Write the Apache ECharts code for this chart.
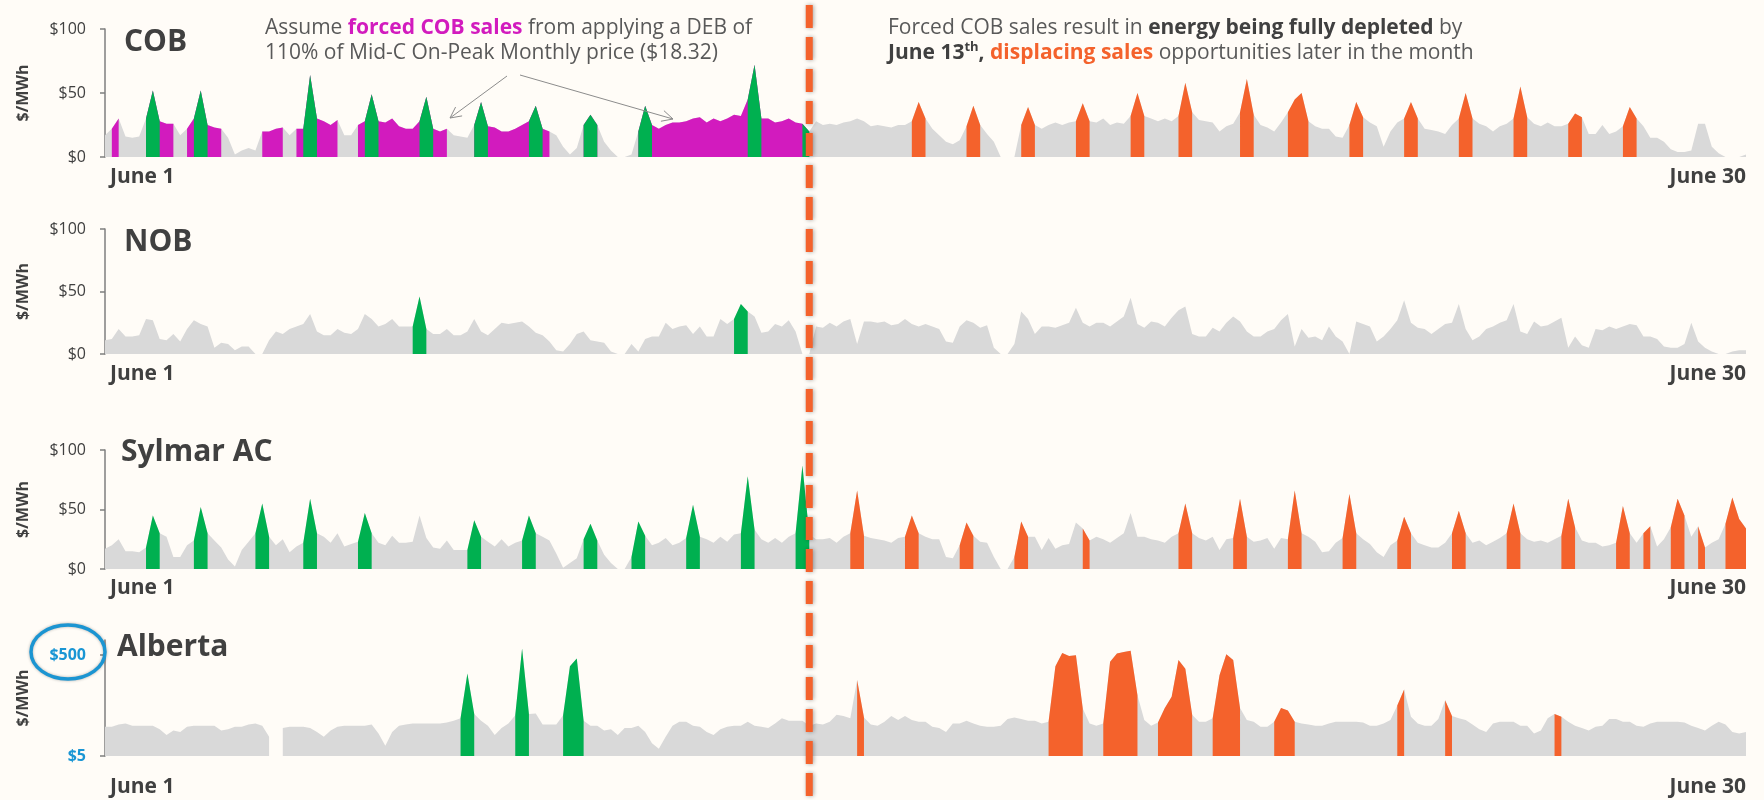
<!DOCTYPE html>
<html><head><meta charset="utf-8">
<script src="https://cdn.jsdelivr.net/npm/echarts@6/dist/echarts.min.js"></script>
<style>html,body{margin:0;padding:0;background:#FFFCF7;}#c{width:1764px;height:800px;}</style>
</head><body><div id="c"></div>
<script>
// ---------- DATA (3-hour steps, June 1 00:00 .. June 30 24:00, 241 points) ----------
// category positions: hour of month
const hourLabels = [];
for (let h = 0; h <= 720; h += 3) hourLabels.push(h);
const xLabelFirst = 'June 1';
const xLabelLast = 'June 30';

// flags: g = price only, m = forced COB sale, G = green sale, o = displaced (orange) sale
const cobPrices = [
  17,22,30,16,15,16,30,52,  28,26,26,17,22,30,52,25,  23,22,15,2,5,7,5,20,
  20,22,23,17,22,22,64,30,  28,25,29,17,17,25,28,49,  28,27,30,24,22,22,28,47,
  22,20,22,17,16,15,25,43,  24,23,20,20,22,25,28,40,  22,20,17,8,2,7,25,33,
  25,12,5,0,0,2,20,40,      25,22,25,27,27,28,30,31,  27,30,28,30,33,32,45,72,
  30,30,27,28,30,27,26,20,  28,25,26,25,27,28,30,28,  24,25,24,23,25,25,28,43,
  30,22,17,12,10,13,24,40,  25,18,12,0,0,0,25,39,     25,22,25,27,25,27,28,42,
  28,27,30,25,27,26,32,50,  32,30,28,30,28,32,58,35,  29,28,27,20,24,26,35,61,
  33,25,23,20,27,35,45,50,  28,24,22,22,16,15,25,43,  31,27,24,8,20,27,30,43,
  30,22,21,20,18,25,30,50,  30,26,24,20,24,26,30,55,  31,26,24,27,24,24,26,34,
  31,18,18,25,18,20,24,39,  30,24,15,15,12,6,4,4,     5,26,26,8,3,0,0,0,
  2];
const cobFlags = [
  'gmmgggGG','GmmgmGGG','mmgggggm','mmmgmGGG','mmmggmGG','GmmmmmGG',
  'GmmgggGG','GmmmmmGG','GmggggGG','GgggggGG','Gmmmmmmm','mmmmmmGG',
  'GmmmmmGG','gggggggg','ggggggoo','ogggggoo','ogggggoo','ogggggoo',
  'ogggggoo','oggggooo','ggggggoo','oggggooo','ogggggoo','ogggggoo',
  'ogggggoo','ogggggoo','ogggggoo','ogggggoo','oggggggg','gggggggg','g'].join('');

const nobPrices = [
  11,12,20,14,14,15,28,27,  12,11,16,10,20,27,24,22,  5,9,8,3,6,6,0,0,
  11,18,16,20,22,24,32,18,  15,15,20,17,16,20,32,28,  22,24,28,22,22,22,46,20,
  16,16,20,15,15,18,28,18,  15,20,25,24,25,26,22,17,  15,10,3,2,8,16,18,11,
  10,9,2,0,0,8,2,12,        14,14,25,20,22,23,16,22,  14,14,28,24,28,40,34,30,
  17,18,24,22,27,18,0,0,    22,21,25,22,26,28,8,26,   26,25,26,23,24,28,24,22,
  24,22,20,10,9,22,27,25,   21,23,5,0,0,8,34,28,      16,22,22,21,23,25,37,25,
  22,25,25,22,26,30,45,24,  21,26,25,22,29,35,38,16,  14,14,21,18,25,30,26,18,
  14,14,18,20,27,32,6,20,   13,14,11,22,14,10,0,26,   24,22,10,14,20,27,43,25,
  21,20,16,20,24,25,40,20,  11,14,20,22,25,27,40,18,  16,26,22,23,26,29,5,14,
  7,5,20,19,22,20,22,24,    23,14,14,12,6,5,5,8,      25,10,5,2,0,0,2,3,
  3];
const nobFlags = [
  'gggggggg','gggggggg','gggggggg','gggggggg','gggggggg','gggggGGG',
  'gggggggg','gggggggg','gggggggg','gggggggg','gggggggg','ggggGGGg',
  'gggggggg','gggggggg','gggggggg','gggggggg','gggggggg','gggggggg',
  'gggggggg','gggggggg','gggggggg','gggggggg','gggggggg','gggggggg',
  'gggggggg','gggggggg','gggggggg','gggggggg','gggggggg','gggggggg','g'].join('');

const sylmarPrices = [
  17,20,25,15,15,14,18,45,  30,27,10,10,20,24,52,30,  24,18,8,2,16,23,30,55,
  27,20,25,14,19,22,59,30,  27,22,30,19,21,23,47,30,  22,20,28,22,22,23,45,26,
  18,17,24,16,16,16,41,27,  23,19,25,19,22,24,45,30,  27,24,13,1,5,9,25,38,
  24,12,5,0,0,10,40,28,     20,22,26,20,22,26,54,27,  25,22,27,23,29,30,78,33,
  25,22,26,22,27,30,87,29,  25,25,26,22,27,30,66,28,  26,25,24,22,26,27,45,30,
  27,25,25,10,9,20,39,28,   23,22,10,0,0,10,40,27,    27,16,26,17,20,21,39,34,
  24,27,25,22,26,30,47,27,  27,25,24,22,27,30,55,30,  26,24,27,16,25,26,59,27,
  23,24,26,17,26,25,66,30,  27,23,14,15,22,26,63,30,  25,21,14,10,20,24,44,30,
  22,20,18,18,22,30,49,30,  22,24,20,23,26,30,55,30,  25,23,24,22,25,28,59,35,
  24,22,22,19,20,22,53,30,  22,30,36,19,25,35,59,45,  27,36,18,22,25,38,60,42,
  34];
const sylmarFlags = [
  'ggggggGG','GggggGGG','ggggggGG','GggggGGG','gggggGGG','gggggggg',
  'gggggGGG','gggggGGG','ggggggGG','GggggGGG','gggggGGG','gggggGGG',
  'gggggGGG','gggggooo','gggggooo','gggggooo','gggggooo','gggggggo',
  'oggggggg','gggggooo','gggggooo','gggggooo','gggggooo','gggggooo',
  'gggggooo','gggggooo','gggggooo','gggggooo','googgooo','googgooo','o'].join('');

// Alberta, $/MWh (0 = no price reported)
const albertaPrices = [
  19,19,21,22,20,20,20,20,  17,13,16,15,19,20,20,20,  20,16,17,19,19,21,22,20,
  12,0,18,19,19,19,18,15,   12,16,19,20,20,20,20,21,  14,8,15,20,21,22,22,22,
  22,22,23,25,28,216,34,25, 20,13,18,22,32,680,34,35, 21,21,21,32,300,430,25,20,
  20,16,17,13,18,18,20,15,  9,7,12,20,24,24,20,19,    15,13,17,19,20,20,24,20,
  19,18,22,28,25,25,25,20,  22,21,24,33,31,28,160,29, 21,20,24,31,26,31,26,24,
  24,19,18,15,22,22,25,22,  20,19,19,20,27,29,27,25,  25,22,24,300,550,480,500,44,
  22,20,22,370,540,580,610,80, 26,20,23,45,75,400,270,33, 24,24,28,200,520,400,45,26,
  24,19,19,24,45,40,24,22,  21,20,20,22,24,24,24,24,  23,20,20,22,26,50,104,30,
  22,20,20,27,64,31,28,26,  21,17,15,22,24,24,24,20,  20,14,16,28,34,30,24,20,
  18,16,19,20,27,27,24,24,  20,19,22,24,24,24,24,23,  20,18,16,20,24,21,15,14,
  15];
const albertaFlags = [
  'gggggggg','gggggggg','gggggggg','gggggggg','gggggggg','gggggggg',
  'ggggGGGg','ggggGGGg','gggGGGGg','gggggggg','gggggggg','gggggggg',
  'gggggggg','ggggggoo','gggggggg','gggggggg','gggggggg','ggoooooo',
  'ggoooooo','ggoooooo','ggooooog','gggoooog','gggggggg','gggggoog',
  'ggggoogg','gggggggg','ggggoogg','gggggggg','gggggggg','gggggggg','g'].join('');

const depletedAtIndex = 103; // June 13, ~21:00

// ---------- STYLE ----------
const FONT = '"Open Sans", "Noto Sans", sans-serif';
const DARK = '#404040', TXT = '#595959';
const GRAY = '#D9D9D9', MAGENTA = '#D21BBE', GREEN = '#00B050', ORANGE = '#F4622C', BLUE = '#1A96D4';

const panels = [
  {title:'COB', prices:cobPrices, flags:cobFlags, top:29, height:128, log:false, margin:10, tx:124, ty:42},
  {title:'NOB', prices:nobPrices, flags:nobFlags, top:229, height:125, log:false, margin:10, tx:124, ty:242},
  {title:'Sylmar AC', prices:sylmarPrices, flags:sylmarFlags, top:450, height:119, log:false, margin:9, tx:121, ty:452},
  {title:'Alberta', prices:albertaPrices, flags:albertaFlags, top:640, height:116, log:true, margin:21, tx:117, ty:647}
];

const grids = [], xAxes = [], yAxes = [], series = [];
panels.forEach((p, i) => {
  const tf = p.log ? (v => v > 0 ? Math.log10(v / 5) : '-') : (v => v);
  grids.push({left:105, right:18, top:p.top, height:p.height});
  xAxes.push({
    type:'category', gridIndex:i, data:hourLabels, boundaryGap:false,
    axisLine:{show:false}, axisTick:{show:false}, splitLine:{show:false},
    axisLabel:{
      interval:(idx) => idx === 0 || idx === hourLabels.length - 1,
      formatter:(v, idx) => idx === 0 ? xLabelFirst : xLabelLast,
      alignMinLabel:'left', alignMaxLabel:'right',
      fontFamily:FONT, fontWeight:'bold', fontSize:21, color:DARK, margin:p.margin,
      padding:[0,0,0,5]
    }
  });
  const y = {
    type:'value', gridIndex:i,
    axisLine:{show:true, lineStyle:{color:'#7F7F7F', width:1.5}},
    axisTick:{show:true, length:5, lineStyle:{color:'#7F7F7F', width:1.5}},
    splitLine:{show:false},
    name:'$/MWh', nameLocation:'middle', nameRotate:90, nameGap:74,
    nameTextStyle:{fontFamily:FONT, fontWeight:'bold', fontSize:16, color:DARK}
  };
  if (p.log) {
    y.min = 0; y.max = Math.log10(1000 / 5); y.interval = 2;
    y.axisTick.customValues = [0, 2];
    y.axisLabel = {customValues:[0, 2], formatter:v => '$' + Math.round(5 * Math.pow(10, v)),
      fontFamily:FONT, fontSize:16, fontWeight:'bold', color:BLUE, margin:19};
  } else {
    y.min = 0; y.max = 100; y.interval = 50;
    y.axisLabel = {formatter:v => '$' + v, fontFamily:FONT, fontSize:16, color:DARK, margin:19};
  }
  yAxes.push(y);
  const base = {type:'line', xAxisIndex:i, yAxisIndex:i, symbol:'none', showSymbol:false,
    silent:true, lineStyle:{width:0, opacity:0}, connectNulls:false, animation:false};
  series.push(Object.assign({}, base, {data:p.prices.map(tf), z:2,
    areaStyle:{color:GRAY, opacity:1, origin:'start'}}));
  const pick = keys => p.prices.map((v, k) => keys.indexOf(p.flags[k]) >= 0 ? tf(v) : '-');
  if (p.flags.indexOf('m') >= 0)
    series.push(Object.assign({}, base, {data:pick('mG'), z:3, areaStyle:{color:MAGENTA, opacity:1, origin:'start'}}));
  series.push(Object.assign({}, base, {data:pick('G'), z:4, areaStyle:{color:GREEN, opacity:1, origin:'start'}}));
  series.push(Object.assign({}, base, {data:pick('o'), z:4, areaStyle:{color:ORANGE, opacity:1, origin:'start'}}));
});

const chart = echarts.init(document.getElementById('c'), null, {renderer:'canvas'});
chart.setOption({
  backgroundColor:'#FFFCF7', animation:false,
  grid:grids, xAxis:xAxes, yAxis:yAxes, series:series
});

// ---------- ANNOTATIONS ----------
function arrow(x1, y1, x2, y2) {
  const dx = x2 - x1, dy = y2 - y1, L = Math.hypot(dx, dy), ux = dx / L, uy = dy / L;
  const hl = 11, hw = 5.5, bx = x2 - ux * hl, by = y2 - uy * hl;
  return [
    {type:'line', z:50, shape:{x1, y1, x2, y2}, style:{stroke:'#8C8C8C', lineWidth:1}},
    {type:'polyline', z:50, shape:{points:[[bx - uy * hw, by + ux * hw], [x2, y2], [bx + uy * hw, by - ux * hw]]},
      style:{stroke:'#8C8C8C', lineWidth:1, fill:null}}
  ];
}
const FS = 21;
const richBase = {
  t:{fill:TXT, fontSize:FS, fontFamily:FONT},
  m:{fill:MAGENTA, fontSize:FS, fontFamily:FONT, fontWeight:'bold'},
  b:{fill:DARK, fontSize:FS, fontFamily:FONT, fontWeight:'bold'},
  o:{fill:ORANGE, fontSize:FS, fontFamily:FONT, fontWeight:'bold'},
  sup:{fill:DARK, fontSize:13, fontFamily:FONT, fontWeight:'bold', padding:[0,0,12,0]}
};
function rtext(x, y, text) {
  return {type:'text', z:60, style:{x, y, text, rich:richBase, fill:TXT, fontSize:FS, fontFamily:FONT, verticalAlign:'middle'}};
}
const xLine = chart.convertToPixel({xAxisIndex:0}, depletedAtIndex);
const graphics = [];
panels.forEach(p => graphics.push({type:'text', z:60,
  style:{x:p.tx, y:p.ty, text:p.title, fill:DARK, fontSize:30, fontWeight:'bold', fontFamily:FONT, verticalAlign:'middle'}}));
graphics.push(rtext(265, 28, '{t|Assume }{m|forced COB sales}{t| from applying a DEB of}'));
graphics.push(rtext(265, 53, '{t|110% of Mid-C On-Peak Monthly price ($18.32)}'));
graphics.push(rtext(888, 28, '{t|Forced COB sales result in }{b|energy being fully depleted}{t| by}'));
graphics.push(rtext(888, 53, '{b|June 13}{sup|th}{b|,}{t| }{o|displacing sales}{t| opportunities later in the month}'));
arrow(507, 76, 450, 118).forEach(g => graphics.push(g));
arrow(520, 75, 673, 119).forEach(g => graphics.push(g));
graphics.push({type:'line', z:100, shape:{x1:xLine, y1:5, x2:xLine, y2:800},
  style:{stroke:ORANGE, lineWidth:7, lineDash:[23, 9], shadowBlur:4, shadowColor:'rgba(0,0,0,0.35)', shadowOffsetX:1}});
graphics.push({type:'ellipse', z:100, shape:{cx:68, cy:652, rx:37, ry:27},
  style:{stroke:'#1B95D2', lineWidth:3.5, fill:null, shadowBlur:3, shadowColor:'rgba(0,0,0,0.3)'}});
chart.setOption({graphic:graphics});
</script>
</body></html>
